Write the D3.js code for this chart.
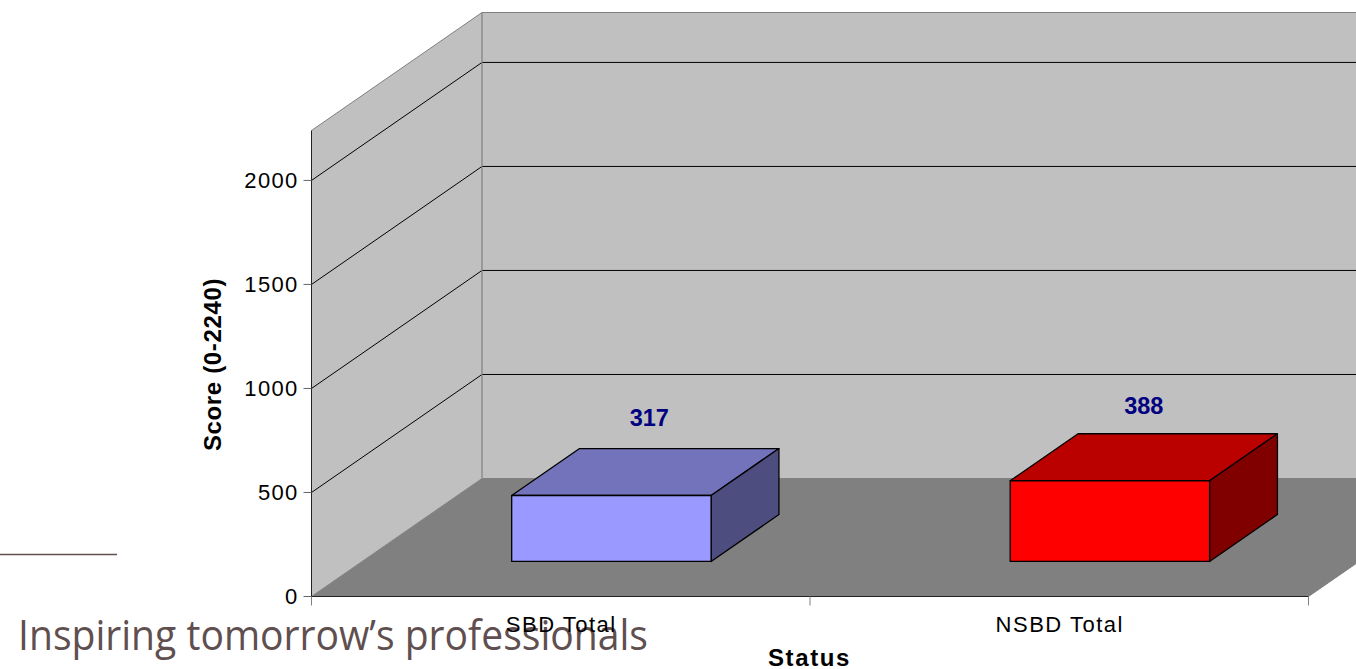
<!DOCTYPE html>
<html><head><meta charset="utf-8">
<style>html,body{margin:0;padding:0;background:#fff;overflow:hidden}svg{display:block}text{font-family:"Liberation Sans",Arial,sans-serif}</style>
<script src="https://cdn.jsdelivr.net/npm/d3@7/dist/d3.min.js"></script>
</head><body><svg id="c" width="1356" height="669"></svg>
<script>
const categories = ["SBD Total", "NSBD Total"];
const values = [317, 388];
const yTicks = [0, 500, 1000, 1500, 2000];
const yMax = 2240;
const xTitle = "Status", yTitle = "Score (0-2240)";
const tagline = "Inspiring tomorrow’s professionals";
const faceColors = ["#9999ff", "#ff0000"], topColors = ["#7373bb", "#bb0000"], sideColors = ["#4d4d7f", "#800000"];

const svg = d3.select("#c");
const y = d3.scaleLinear().domain([0, yMax]).range([596.5, 130.5]);
const x = d3.scaleBand().domain(categories).range([311.5, 1308.5]).paddingInner(0).paddingOuter(0);
const barW = x.bandwidth() * 0.4;
const D = { dx: 170.5, dy: -118 };
const proj = (px, py, d) => [px + D.dx * d, py + D.dy * d];
const poly = pts => "M" + pts.map(p => p.join(",")).join("L") + "Z";
const y0 = y(0), yT = y(yMax), xL = x.range()[0], xR = x.range()[1];
const floorBack = 1.004;

// walls and floor
svg.append("path").attr("d", poly([proj(xL, yT, 1), proj(xR, yT, 1), proj(xR, y0, 1), proj(xL, y0, 1)])).attr("fill", "#c0c0c0");
svg.append("path").attr("d", poly([proj(xL, yT, 0), proj(xL, yT, 1), proj(xL, y0, 1), proj(xL, y0, 0)])).attr("fill", "#c0c0c0");
svg.append("path").attr("d", poly([proj(xL, y0, 0), proj(xR, y0, 0), proj(xR, y0, floorBack), proj(xL, y0, floorBack)])).attr("fill", "#808080");

// grid
yTicks.filter(t => t > 0).forEach(t => {
  svg.append("path").attr("d", d3.line()([proj(xL, y(t), 0), proj(xL, y(t), 1), proj(xR, y(t), 1)])).attr("fill", "none").attr("stroke", "#000").attr("stroke-width", 1);
});
// wall edges
svg.append("path").attr("d", d3.line()([proj(xL, yT, 0), proj(xL, yT, 1), proj(xR, yT, 1)])).attr("fill", "none").attr("stroke", "#808080");
svg.append("path").attr("d", d3.line()([proj(xL, yT, 1), proj(xL, y0, 1)])).attr("fill", "none").attr("stroke", "#808080").attr("stroke-width", 1.2);
svg.append("path").attr("d", d3.line()([proj(xL, y0, 0), proj(xL, y0, 1)])).attr("fill", "none").attr("stroke", "#808080");
svg.append("path").attr("d", d3.line()([proj(xR, y0, 0), proj(xR, y0, 1)])).attr("fill", "none").attr("stroke", "#808080");

// tagline sits under the chart's labels
svg.append("line").attr("x1", 0).attr("x2", 117).attr("y1", 554.5).attr("y2", 554.5).attr("stroke", "#5f4f4f").attr("stroke-width", 1.6);
svg.append("text").attr("x", 18).attr("y", 650).attr("fill", "#5f4f4f").attr("font-size", 42)
  .style("font-family", "'Open Sans', sans-serif").style("font-weight", 400).attr("textLength", 630).attr("lengthAdjust", "spacingAndGlyphs").text(tagline);

// axes
svg.append("line").attr("x1", xL).attr("x2", xL).attr("y1", yT).attr("y2", y0 + 8).attr("stroke", "#222");
svg.append("line").attr("x1", xL).attr("x2", xR).attr("y1", y0).attr("y2", y0).attr("stroke", "#222").attr("stroke-width", 1.2);
yTicks.forEach(t => {
  svg.append("line").attr("x1", xL - 8).attr("x2", xL).attr("y1", y(t)).attr("y2", y(t)).attr("stroke", "#666");
  svg.append("text").attr("x", xL - 13).attr("y", y(t) + 7.5).attr("text-anchor", "end").attr("font-size", 22).style("letter-spacing", "1.3px").attr("fill", "#000").text(t);
});
[...categories.map(c => x(c)), xR].forEach(v => {
  svg.append("line").attr("x1", v).attr("x2", v).attr("y1", y0).attr("y2", y0 + 9).attr("stroke", "#808080");
});
categories.forEach(c => {
  svg.append("text").attr("x", x(c) + x.bandwidth() / 2 + 0.5).attr("y", 632).attr("text-anchor", "middle").attr("font-size", 22).style("letter-spacing", "1.5px").attr("fill", "#000").text(c);
});
svg.append("text").attr("x", 809.5).attr("y", 666).attr("text-anchor", "middle").attr("font-size", 24).attr("font-weight", "bold").style("letter-spacing", "1.6px").text(xTitle);
svg.append("text").attr("transform", "translate(221,364.5) rotate(-90)").attr("text-anchor", "middle").attr("font-size", 24).attr("font-weight", "bold").style("letter-spacing", "0.65px").text(yTitle);

// bars
const dFront = 0.297, dBack = 0.695;
const labelLift = [46, 43.7];
const labelShift = [4, 0];
categories.forEach((c, i) => {
  const l = x(c) + (x.bandwidth() - barW) / 2, r = l + barW, top = y(values[i]);
  const g = svg.append("g").attr("stroke", "#000").attr("stroke-width", 1.3).attr("stroke-linejoin", "round");
  g.append("path").attr("fill", topColors[i]).attr("d", poly([proj(l, top, dFront), proj(r, top, dFront), proj(r, top, dBack), proj(l, top, dBack)]));
  g.append("path").attr("fill", sideColors[i]).attr("d", poly([proj(r, y0, dFront), proj(r, top, dFront), proj(r, top, dBack), proj(r, y0, dBack)]));
  g.append("path").attr("fill", faceColors[i]).attr("d", poly([proj(l, y0, dFront), proj(r, y0, dFront), proj(r, top, dFront), proj(l, top, dFront)]));
  const [lx, ly] = proj((l + r) / 2, top, (dFront + dBack) / 2);
  svg.append("text").attr("x", lx + labelShift[i]).attr("y", ly - labelLift[i]).attr("text-anchor", "middle").attr("font-size", 23.5).attr("font-weight", "bold").attr("fill", "#000080").text(values[i]);
});
</script></body></html>
